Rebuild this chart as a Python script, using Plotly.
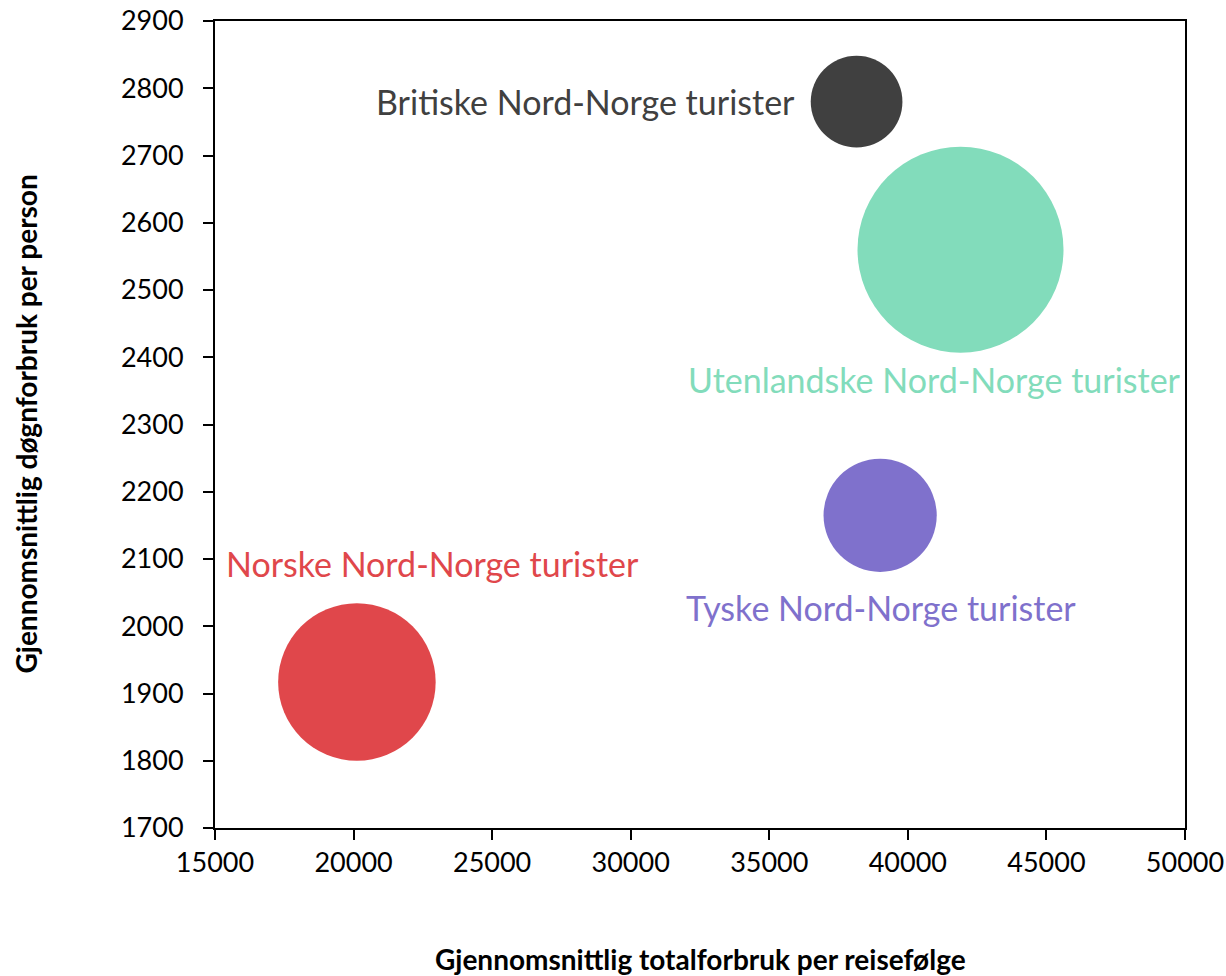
import plotly.graph_objects as go

# Data
groups = ["Britiske Nord-Norge turister", "Utenlandske Nord-Norge turister",
          "Tyske Nord-Norge turister", "Norske Nord-Norge turister"]
total_per_party = [38150, 41900, 39000, 20120]      # x
daily_per_person = [2780, 2560, 2165, 1917]         # y
bubble_size = [21, 106, 32, 62]                     # relative bubble size (area)

colors = ["#404040", "#82DCBB", "#7F71CC", "#E0474B"]
# label offsets in px (style)
label_shift = [(-60, 0, "right"), (-26, -130, "center"), (1, -92, "center"), (76, 119, "center")]

x_ticks = [15000, 20000, 25000, 30000, 35000, 40000, 45000, 50000]
y_ticks = [1700, 1800, 1900, 2000, 2100, 2200, 2300, 2400, 2500, 2600, 2700, 2800, 2900]

FONT = "Lato"
fig = go.Figure()
sizeref = max(bubble_size) / (2 * 103 ** 2)
for g, xv, yv, s, c in zip(groups, total_per_party, daily_per_person, bubble_size, colors):
    fig.add_trace(go.Scatter(
        x=[xv], y=[yv], mode="markers", name=g,
        marker=dict(size=[s], sizemode="area", sizeref=sizeref, color=c, line=dict(width=0), opacity=1),
        showlegend=False, hoverinfo="x+y+name"))

annotations = []
for g, xv, yv, c, (dx, dy, anc) in zip(groups, total_per_party, daily_per_person, colors, label_shift):
    annotations.append(dict(x=xv, y=yv, xref="x", yref="y", text=g, showarrow=False,
                            xanchor=anc, yanchor="middle", xshift=dx, yshift=dy,
                            font=dict(family=FONT, size=34, color=c)))

annotations.append(dict(x=0.5, y=0, xref="paper", yref="paper", yshift=-131, text="Gjennomsnittlig totalforbruk per reisefølge",
                        showarrow=False, xanchor="center", yanchor="middle",
                        font=dict(family=FONT, size=28, color="#000000", weight="bold")))
annotations.append(dict(x=0, y=0.5, xref="paper", yref="paper", xshift=-190, text="Gjennomsnittlig døgnforbruk per person",
                        showarrow=False, xanchor="center", yanchor="middle", textangle=-90,
                        font=dict(family=FONT, size=28, color="#000000", weight="bold")))

fig.update_layout(
    width=1226, height=976,
    margin=dict(l=215, r=41, t=21, b=148, autoexpand=False),
    paper_bgcolor="white", plot_bgcolor="white",
    font=dict(family=FONT, size=27, color="#000000"),
    annotations=annotations,
    xaxis=dict(range=[15000, 50000], tickvals=x_ticks, ticktext=[str(v) for v in x_ticks],
               showgrid=False, zeroline=False, showline=True, linecolor="black", linewidth=2,
               mirror=True, ticks="outside", ticklen=10, tickwidth=2, tickcolor="black",
               ticklabeloverflow="allow",
               tickfont=dict(family=FONT, size=27), automargin=False),
    yaxis=dict(range=[1700, 2900], tickvals=y_ticks, ticktext=[str(v) for v in y_ticks],
               showgrid=False, zeroline=False, showline=True, linecolor="black", linewidth=2,
               mirror=True, ticks="outside", ticklen=10, tickwidth=2, tickcolor="black",
               ticklabelstandoff=14, ticklabeloverflow="allow",
               tickfont=dict(family=FONT, size=27), automargin=False),
)

fig.write_html("out.html", config={"displayModeBar": False},
               post_script="document.body.style.margin='0';document.body.style.overflow='hidden';")
